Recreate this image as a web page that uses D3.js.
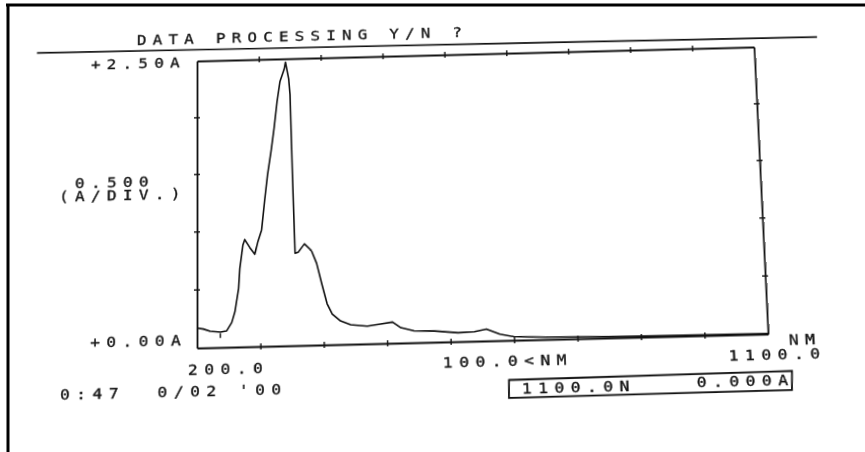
<!DOCTYPE html>
<html>
<head>
<meta charset="utf-8">
<script src="https://cdn.jsdelivr.net/npm/d3@7"></script>
<style>
  body { margin: 0; background: #fff; }
  #page { position: relative; width: 865px; height: 452px; overflow: hidden; background: #fff; }
  #page svg { position: absolute; left: 0; top: 0; overflow: visible; }
  text { font-family: "DejaVu Sans Mono", monospace; font-size: 14px; letter-spacing: 5.5px; fill: #161616; stroke: #161616; stroke-width: 0.35px; white-space: pre; }
</style>
</head>
<body>
<div id="page"></div>
<script>
// spectrum
const wavelength = [200, 210, 221, 237, 247, 255, 260, 266, 268, 273, 276, 284, 292, 297, 303, 308, 313, 319, 324, 329,
  334, 341, 343, 348, 350, 353, 356, 361, 371, 382, 390, 398, 406, 414, 427, 443, 469, 490, 509, 522,
  543, 575, 612, 638, 657, 678, 700, 750, 800, 850, 900, 1000, 1100];
const absorbance = [0.17, 0.16, 0.14, 0.13, 0.14, 0.21, 0.30, 0.50, 0.67, 0.87, 0.92, 0.85, 0.79, 0.90, 1.00, 1.25, 1.48, 1.69, 1.89, 2.12,
  2.30, 2.41, 2.47, 2.32, 2.18, 1.43, 0.79, 0.80, 0.87, 0.81, 0.70, 0.52, 0.35, 0.26, 0.20, 0.165, 0.15, 0.166, 0.18, 0.13,
  0.10, 0.095, 0.075, 0.08, 0.10, 0.055, 0.03, 0.02, 0.015, 0.01, 0.008, 0.006, 0.005];
const xTicks = [300, 400, 500, 600, 700, 800, 900, 1000];
const yTicks = [0.5, 1.0, 1.5, 2.0];
const cursorMarks = [237];

const W = 865, H = 452;
const plotX = 197, plotY = 61, plotW = 564, plotH = 287;

// the paper was scanned a little crooked: map the flat plot box onto the scanned corners
const src = [[plotX, plotY], [plotX + plotW, plotY], [plotX + plotW, plotY + plotH], [plotX, plotY + plotH]];
const dst = [[197, 61], [754, 47], [768, 334], [197, 348]];

function adj(m) {
  return [
    m[4]*m[8]-m[5]*m[7], m[2]*m[7]-m[1]*m[8], m[1]*m[5]-m[2]*m[4],
    m[5]*m[6]-m[3]*m[8], m[0]*m[8]-m[2]*m[6], m[2]*m[3]-m[0]*m[5],
    m[3]*m[7]-m[4]*m[6], m[1]*m[6]-m[0]*m[7], m[0]*m[4]-m[1]*m[3]];
}
function mul(a, b) {
  const c = [];
  for (let i = 0; i < 3; i++) for (let j = 0; j < 3; j++) {
    let s = 0;
    for (let k = 0; k < 3; k++) s += a[3*i+k] * b[3*k+j];
    c[3*i+j] = s;
  }
  return c;
}
function mulv(m, v) {
  return [m[0]*v[0]+m[1]*v[1]+m[2]*v[2], m[3]*v[0]+m[4]*v[1]+m[5]*v[2], m[6]*v[0]+m[7]*v[1]+m[8]*v[2]];
}
function basis(p) {
  const m = [p[0][0], p[1][0], p[2][0], p[0][1], p[1][1], p[2][1], 1, 1, 1];
  const v = mulv(adj(m), [p[3][0], p[3][1], 1]);
  return mul(m, [v[0], 0, 0, 0, v[1], 0, 0, 0, v[2]]);
}
let Hm = mul(basis(dst), adj(basis(src)));
Hm = Hm.map(d => d / Hm[8]);
const Hinv = adj(Hm);
function unwarp(p) {
  const v = mulv(Hinv, [p[0], p[1], 1]);
  return [v[0] / v[2], v[1] / v[2]];
}

const page = d3.select("#page");

// paper edge
let bg = page.append("svg")
    .attr("width", W)
    .attr("height", H)
;
bg.append("line")
    .attr("x1", 6).attr("y1", 5).attr("x2", W).attr("y2", 5)
    .attr("stroke", "#000").attr("stroke-width", 3)
;
bg.append("line")
    .attr("x1", 8).attr("y1", 4).attr("x2", 8).attr("y2", H)
    .attr("stroke", "#000").attr("stroke-width", 3)
;

let sheet = page.append("svg")
    .attr("width", W)
    .attr("height", H)
    .style("transform-origin", "0 0")
    .style("transform", `matrix3d(${Hm[0]},${Hm[3]},0,${Hm[6]},${Hm[1]},${Hm[4]},0,${Hm[7]},0,0,1,0,${Hm[2]},${Hm[5]},0,${Hm[8]})`)
;

const x = d3.scaleLinear().domain([200, 1100]).range([plotX, plotX + plotW]);
const y = d3.scaleLinear().domain([0, 2.5]).range([plotY + plotH, plotY]);

function crossTicks(g) {
  g.select(".domain").attr("stroke", "#111").attr("stroke-width", 1.8);
  g.selectAll(".tick line").attr("stroke", "#111").attr("stroke-width", 1.4).each(function() {
    let l = d3.select(this);
    ["x", "y"].forEach(a => {
      let v = +l.attr(a + "2");
      if (v) l.attr(a + "1", -v);
    });
  });
  g.selectAll(".tick text").remove();
}

sheet.append("g")
    .attr("transform", `translate(0,${plotY + plotH})`)
    .call(d3.axisBottom(x).tickValues(xTicks).tickSize(3).tickSizeOuter(0).tickFormat(""))
    .call(crossTicks)
;
sheet.append("g")
    .attr("transform", `translate(0,${plotY})`)
    .call(d3.axisTop(x).tickValues(xTicks).tickSize(3).tickSizeOuter(0).tickFormat(""))
    .call(crossTicks)
;
sheet.append("g")
    .attr("transform", `translate(${plotX},0)`)
    .call(d3.axisLeft(y).tickValues(yTicks).tickSize(3).tickSizeOuter(0).tickFormat(""))
    .call(crossTicks)
;
sheet.append("g")
    .attr("transform", `translate(${plotX + plotW},0)`)
    .call(d3.axisRight(y).tickValues(yTicks).tickSize(3).tickSizeOuter(0).tickFormat(""))
    .call(crossTicks)
;

// spectrum
let line = d3.line()
    .x(d => x(d[0]))
    .y(d => y(d[1]))
;
sheet.append("path")
    .datum(d3.zip(wavelength, absorbance))
    .attr("d", line)
    .attr("fill", "none")
    .attr("stroke", "#111")
    .attr("stroke-width", 1.6)
    .attr("stroke-linejoin", "round")
;

// cursor mark under the curve
sheet.selectAll(".cursor")
  .data(cursorMarks)
  .enter()
  .append("line")
    .attr("x1", d => x(d)).attr("x2", d => x(d))
    .attr("y1", y(0.12)).attr("y2", y(0.08))
    .attr("stroke", "#111").attr("stroke-width", 1.4)
;

// rule under the prompt
let r1 = unwarp([37, 53]), r2 = unwarp([817, 37]);
sheet.append("line")
    .attr("x1", r1[0]).attr("y1", r1[1]).attr("x2", r2[0]).attr("y2", r2[1])
    .attr("stroke", "#111").attr("stroke-width", 1.6)
;

// readout box
let box = [[509, 380], [792, 371], [792, 390], [509, 398]].map(unwarp);
sheet.append("polygon")
    .attr("points", box.map(p => p.join(",")).join(" "))
    .attr("fill", "none")
    .attr("stroke", "#111")
    .attr("stroke-width", 1.8)
;

// printed text, a bit wider than the mono font like the printer's
const labels = [
  ["DATA PROCESSING Y/N ?", 137, 45],
  ["+2.50A", 91, 70],
  ["0.500", 75, 188],
  ["(A/DIV.)", 59, 202],
  ["+0.00A", 90, 348],
  ["200.0", 188, 375],
  ["100.0<NM", 443, 368],
  ["NM", 789, 345],
  ["1100.0", 729, 361],
  ["0:47  0/02 '00", 60, 400],
  ["1100.0N", 522, 394],
  ["0.000A", 697, 387]
];
labels.forEach(t => {
  let p = unwarp([t[1], t[2]]);
  sheet.append("text")
      .text(t[0])
      .attr("transform", `translate(${p[0]},${p[1]}) scale(1.15,1)`)
  ;
});
</script>
</body>
</html>
